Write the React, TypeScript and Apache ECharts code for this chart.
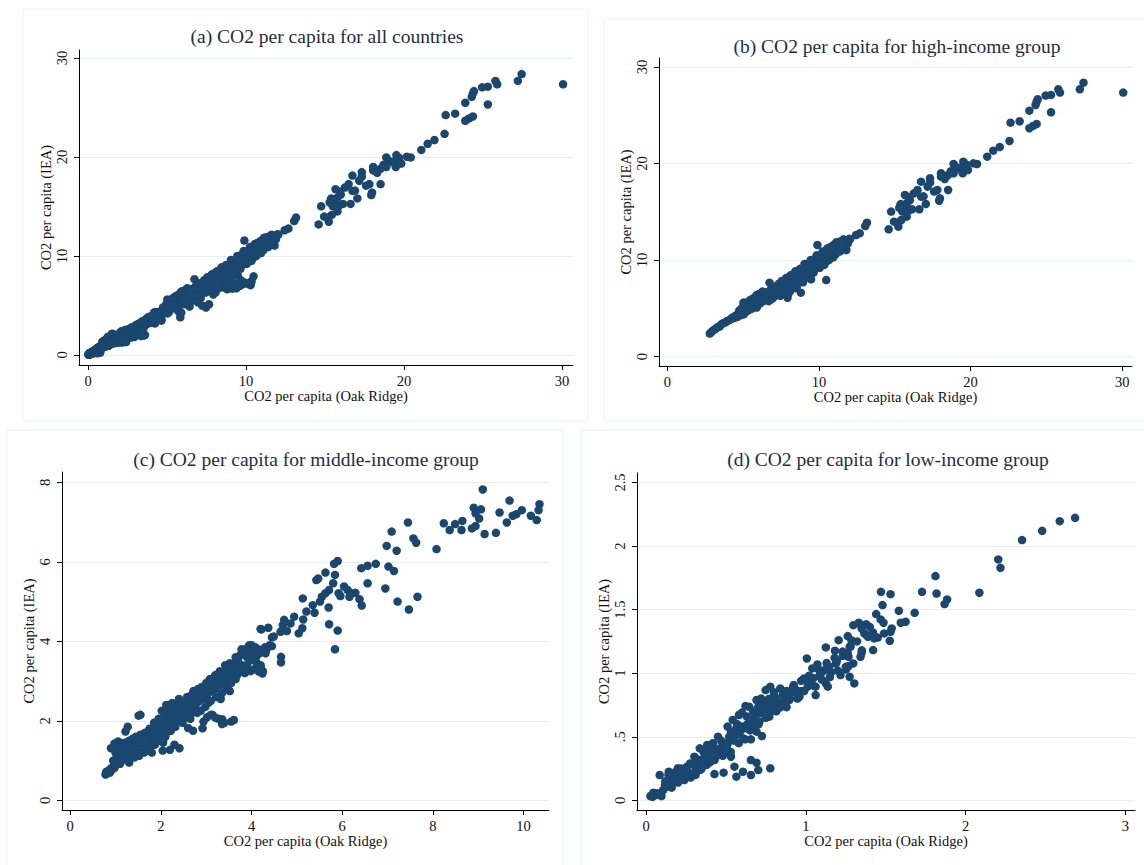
import React, { useEffect, useRef } from 'react';
import * as echarts from 'echarts';

// ---------- data (x = Oak Ridge, y = IEA), tonnes CO2 per capita ----------
const highIncome: number[][] = [
  [30.07, 27.34], [27.45, 28.37], [27.21, 27.68], [25.79, 27.68], [25.9, 27.34], [25.31, 27.1], [24.95, 27.03],
  [25.31, 25.3], [24.36, 26.4], [24.29, 26.06], [24.43, 26.65], [23.88, 25.47], [23.24, 24.37], [22.64, 24.23],
  [24.36, 24.09], [24.12, 23.89], [23.88, 23.65], [22.57, 22.33], [21.93, 21.71], [21.5, 21.33], [21.1, 20.71],
  [20.43, 19.95], [20.19, 20.02], [19.52, 20.19], [19.48, 19.68], [19.83, 19.33], [19.0, 19.68], [18.88, 19.95],
  [18.88, 18.99], [18.52, 18.81], [18.05, 18.99], [18.05, 18.64], [19.48, 18.99], [18.52, 17.26], [17.98, 16.4],
  [17.93, 16.15], [17.81, 17.26], [17.33, 18.47], [17.33, 18.02], [17.17, 17.6], [17.05, 15.81], [16.74, 18.12],
  [16.74, 16.57], [16.5, 17.26], [16.26, 16.91], [15.95, 16.5], [15.67, 16.74], [15.79, 15.88], [16.14, 15.26],
  [16.62, 15.26], [15.55, 15.36], [15.38, 15.71], [15.5, 15.02], [15.79, 14.5], [15.43, 14.15], [15.19, 13.88],
  [14.76, 15.02], [14.95, 13.98], [14.6, 13.19], [15.24, 13.46], [19.2, 19.5], [18.7, 19.2], [19.7, 19.9],
  [18.3, 18.4], [15.6, 15.5], [15.4, 15.8], [15.9, 15.1], [16.0, 16.2], [15.3, 15.4], [17.6, 17.1], [16.9, 16.6],
  [13.17, 13.88], [13.05, 13.53], [12.69, 12.77], [12.45, 12.6], [12.05, 12.15], [11.86, 11.74], [11.62, 12.15],
  [11.33, 11.91], [11.02, 11.56], [11.81, 11.05], [10.86, 11.32], [10.74, 10.7], [9.9, 11.56],
  [10.48, 7.94], [9.48, 8.01], [8.81, 6.63], [8.52, 7.08], [7.93, 6.11], [8.0, 6.56], [6.74, 7.66],
  [2.8, 2.4], [2.9, 2.55], [3.0, 2.7], [3.1, 2.8], [3.2, 2.92], [3.3, 3.05], [3.45, 3.12], [3.52, 3.3],
  [3.6, 3.37], [3.7, 3.5], [3.85, 3.56], [3.95, 3.71], [4.05, 3.76], [4.2, 3.9], [4.3, 4.07], [4.4, 4.01],
  [4.5, 4.25], [4.6, 4.33], [4.7, 4.5], [4.8, 4.44], [4.9, 4.72], [5.0, 4.61], [5.02, 5.6], [5.1, 4.9],
  [5.15, 5.52], [5.2, 5.1], [5.3, 5.3], [5.35, 5.72], [5.42, 5.0], [5.5, 5.9], [5.52, 5.41], [5.6, 5.62],
  [5.65, 6.02], [5.7, 5.2], [5.8, 6.2], [5.85, 5.7], [5.9, 6.4], [6.0, 5.9], [6.03, 6.3], [6.1, 5.5],
  [6.15, 6.1], [6.2, 6.52], [6.3, 6.0], [6.35, 6.4], [6.4, 5.8], [6.5, 6.2], [6.52, 6.55], [6.6, 6.02],
  [6.7, 6.4], [6.75, 6.8], [6.8, 5.9], [6.9, 6.5], [7.0, 6.2], [7.02, 7.0], [7.1, 6.7], [7.2, 7.2],
  [7.25, 6.4], [7.3, 6.9], [7.4, 7.4], [7.5, 6.6], [7.52, 7.1], [7.6, 7.7], [7.7, 6.9], [7.75, 7.4],
  [7.8, 8.0], [7.9, 7.2], [8.02, 7.6], [8.05, 8.3], [8.1, 6.8], [8.2, 7.9], [8.3, 8.4], [8.35, 7.4],
  [8.4, 8.1], [8.5, 8.7], [8.6, 7.7], [8.62, 8.3], [8.7, 8.9], [8.8, 8.5], [8.85, 7.9], [8.9, 9.1],
  [9.0, 8.7], [9.1, 9.3], [9.12, 8.2], [9.2, 9.0], [9.3, 9.5], [9.35, 8.6], [9.4, 9.2], [9.5, 9.8],
  [9.55, 8.9], [9.6, 9.4], [9.7, 10.1], [9.75, 9.1], [9.8, 9.7], [9.9, 10.3], [9.95, 9.4], [10.0, 10.0],
  [10.1, 10.5], [10.15, 9.6], [10.2, 10.2], [10.3, 10.8], [10.4, 10.4], [10.45, 9.8], [10.5, 11.0],
  [10.6, 10.6], [10.7, 11.3], [10.75, 10.2], [10.8, 10.9], [10.9, 11.5], [11.0, 11.1], [11.1, 10.6],
  [11.2, 11.6], [11.3, 11.3], [11.45, 11.9], [11.5, 11.2], [11.7, 12.0], [11.9, 11.7], [12.0, 12.2],
  [4.6, 4.1], [4.75, 4.8], [4.85, 4.3], [4.95, 5.1], [5.05, 4.4], [5.25, 5.55], [5.3, 4.75], [5.45, 5.25],
  [5.55, 4.95], [5.62, 5.95], [5.75, 5.45], [5.9, 5.1], [6.05, 6.5], [6.22, 5.65], [6.28, 6.75], [6.45, 6.0],
  [6.62, 6.7], [6.68, 5.75], [6.85, 7.0], [6.95, 6.05], [7.08, 7.25], [7.15, 6.35], [7.35, 7.55], [7.45, 6.3],
  [7.55, 7.85], [7.65, 6.5], [7.85, 8.15], [7.95, 6.9], [8.15, 8.45], [8.25, 7.1], [8.45, 8.85], [8.55, 7.35],
  [8.75, 9.1], [8.95, 7.7], [9.05, 9.6], [9.25, 8.3], [9.45, 10.0], [9.65, 8.7], [9.85, 10.5], [10.05, 9.2],
  [10.25, 10.9], [10.35, 9.5], [10.55, 11.2], [10.65, 10.0], [10.95, 10.3], [11.15, 11.85], [11.4, 10.9],
  [11.6, 11.5],
];

const middleIncome: number[][] = [
  [9.1, 7.82], [9.69, 7.54], [10.35, 7.45], [10.33, 7.3], [8.9, 7.36], [9.06, 7.32], [8.94, 7.22], [9.02, 7.09],
  [9.47, 7.24], [9.76, 7.16], [9.84, 7.2], [9.96, 7.3], [10.16, 7.16], [10.29, 7.05], [9.63, 6.99], [9.39, 6.73],
  [9.14, 6.7], [8.94, 6.9], [8.86, 6.84], [8.65, 7.03], [8.63, 6.8], [8.49, 6.95], [8.37, 6.8], [8.24, 6.97],
  [8.08, 6.32], [7.45, 6.99], [7.57, 6.59], [7.63, 6.48], [7.09, 6.76], [6.98, 6.4], [7.2, 6.28], [7.02, 5.88],
  [7.14, 5.77], [6.95, 5.33], [7.22, 5.0], [7.47, 4.8], [7.66, 5.12], [6.74, 5.95], [6.56, 5.9], [6.42, 5.84],
  [6.56, 5.46], [6.38, 5.06], [6.43, 4.9], [5.9, 6.02], [5.82, 5.95], [5.84, 5.67], [5.63, 5.73], [5.8, 5.46],
  [5.47, 5.58], [5.43, 5.54], [5.71, 5.29], [5.63, 5.21], [6.04, 5.38], [6.12, 5.29], [6.2, 5.21], [6.29, 5.22],
  [5.92, 5.21], [6.16, 5.12], [5.96, 5.14], [5.55, 5.12], [5.13, 5.08], [5.51, 5.0], [5.35, 4.91], [5.39, 4.72],
  [5.21, 4.75], [5.7, 4.85], [5.71, 4.43], [5.9, 4.27], [5.84, 3.8], [5.14, 4.55], [4.94, 4.62], [5.12, 4.33],
  [5.04, 4.2], [4.86, 4.45], [4.72, 4.54], [4.69, 4.41], [4.78, 4.26], [4.64, 4.24], [4.49, 4.12], [4.37, 4.34],
  [4.2, 4.31], [4.65, 3.61], [4.65, 3.47], [4.45, 3.88], [4.33, 3.8], [4.31, 3.7], [4.2, 3.35], [4.16, 3.24],
  [4.24, 3.19],
  [3.55, 1.98], [3.61, 2.02], [3.35, 2.04], [3.35, 1.92], [3.27, 2.05], [3.14, 2.15], [3.02, 2.09], [2.92, 1.81],
  [2.71, 1.75], [2.94, 1.98], [2.41, 1.31], [2.2, 1.27], [2.04, 1.25], [1.55, 2.15], [1.51, 2.13], [1.27, 1.85],
  [1.22, 1.73], [0.9, 1.31], [0.98, 1.43], [1.06, 1.48],
  [0.78, 0.65], [0.8, 0.72], [0.82, 0.68], [0.85, 0.75], [0.88, 0.7], [0.9, 0.8], [0.92, 0.77], [0.95, 0.85],
  [0.98, 0.82], [1.0, 0.9], [1.02, 1.05], [1.05, 0.95], [1.08, 1.0], [1.1, 1.12], [1.12, 0.98], [1.15, 1.1],
  [1.18, 1.2], [1.2, 1.05], [1.22, 1.3], [1.25, 1.15], [1.28, 1.25], [1.3, 1.1], [1.32, 1.4], [1.35, 1.2],
  [1.38, 1.32], [1.4, 1.15], [1.42, 1.45], [1.45, 1.3], [1.48, 1.4], [1.5, 1.22], [1.52, 1.5], [1.55, 1.35],
  [1.58, 1.6], [1.6, 1.42], [1.62, 1.3], [1.65, 1.55], [1.68, 1.45], [1.7, 1.62], [1.72, 1.38], [1.75, 1.52],
  [1.78, 1.7], [1.8, 1.48], [1.82, 1.6], [1.85, 1.75], [1.88, 1.55], [1.9, 1.85], [1.92, 1.65], [1.95, 1.95],
  [1.98, 1.72], [2.0, 1.6], [2.02, 2.05], [2.05, 1.8], [2.08, 1.95], [2.1, 2.2], [2.12, 1.7], [2.15, 2.35],
  [2.18, 1.9], [2.2, 2.1], [2.22, 2.4], [2.25, 2.0], [2.3, 2.25], [2.32, 1.85], [2.35, 2.15], [2.4, 2.4],
  [2.42, 2.05], [2.45, 2.3], [2.5, 2.2], [2.55, 2.45], [2.6, 2.3], [2.62, 2.55], [2.65, 2.15], [2.7, 2.5],
  [2.75, 2.35], [2.78, 2.65], [2.8, 2.45], [2.85, 2.7], [2.9, 2.55], [2.95, 2.8], [3.0, 2.6], [3.02, 2.9],
  [3.05, 2.45], [3.1, 2.75], [3.15, 3.0], [3.2, 2.8], [3.25, 3.1], [3.3, 2.9], [3.32, 2.55], [3.35, 3.2],
  [3.4, 3.0], [3.45, 3.3], [3.5, 3.1], [3.52, 2.75], [3.55, 3.35], [3.6, 3.2], [3.62, 3.45], [3.65, 3.05],
  [3.7, 3.55], [3.72, 3.3], [3.75, 3.65], [3.8, 3.4], [3.82, 3.75], [3.85, 3.2], [3.9, 3.6], [3.92, 3.85],
  [3.95, 3.5], [4.0, 3.9], [4.02, 3.7], [4.05, 3.3], [4.1, 3.6], [4.15, 3.8], [4.2, 3.4], [4.25, 3.25],
  [4.3, 3.85], [4.4, 3.9], [4.45, 4.1], [4.22, 4.3],
  [0.95, 1.0], [1.0, 1.2], [1.05, 1.3], [1.1, 0.92], [1.12, 1.38], [1.15, 1.25], [1.2, 1.45], [1.25, 1.02],
  [1.3, 1.5], [1.33, 1.28], [1.38, 1.55], [1.4, 1.35], [1.42, 1.08], [1.45, 1.6], [1.5, 1.45], [1.52, 1.12],
  [1.55, 1.65], [1.6, 1.55], [1.63, 1.2], [1.65, 1.7], [1.68, 1.25], [1.7, 1.5], [1.75, 1.8], [1.78, 1.35],
  [1.8, 1.65], [1.85, 1.95], [1.87, 1.4], [1.9, 1.7], [1.95, 2.05], [1.97, 1.5], [2.0, 1.85], [2.02, 2.25],
  [2.05, 1.45], [2.08, 2.1], [2.1, 1.6], [2.12, 2.4], [2.15, 1.95], [2.2, 2.3], [2.22, 1.75], [2.25, 2.45],
  [2.28, 2.15], [2.3, 1.9], [2.35, 2.35], [2.38, 2.0], [2.4, 2.55], [2.45, 2.15], [2.48, 1.95], [2.5, 2.45],
  [2.55, 2.1], [2.58, 2.6], [2.6, 2.4], [2.65, 2.05], [2.68, 2.65], [2.7, 2.3], [2.72, 2.75], [2.75, 2.55],
  [2.8, 2.2], [2.82, 2.8], [2.85, 2.5], [2.88, 2.25], [2.9, 2.85], [2.95, 2.6], [2.98, 2.35], [3.0, 2.95],
  [3.05, 2.7], [3.08, 3.05], [3.1, 2.5], [3.15, 2.85], [3.2, 3.15], [3.22, 2.6], [3.28, 2.95], [3.3, 3.25],
  [3.35, 2.7], [3.38, 3.05], [3.42, 3.4], [3.45, 2.85], [3.48, 3.15], [3.52, 3.45], [3.55, 2.95], [3.58, 3.3],
  [3.65, 3.6], [3.68, 3.15], [3.75, 3.4], [3.78, 3.8], [3.82, 3.25], [3.88, 3.7], [3.9, 3.35], [3.95, 3.9],
  [3.98, 3.25], [4.02, 3.6], [4.08, 3.85], [4.12, 3.45], [4.18, 3.7], [3.1, 2.15], [3.2, 2.08], [3.4, 1.95],
  [2.6, 1.82], [2.3, 1.4], [1.8, 1.2], [1.3, 0.95],
];

const lowIncome: number[][] = [
  [2.685, 2.222], [2.589, 2.196], [2.479, 2.12], [2.353, 2.047], [2.204, 1.895], [2.218, 1.829], [2.086, 1.633],
  [1.811, 1.764], [1.818, 1.627], [1.884, 1.58], [1.868, 1.544], [1.727, 1.64], [1.681, 1.475], [1.624, 1.405],
  [1.594, 1.397], [1.582, 1.491], [1.53, 1.622], [1.47, 1.64], [1.48, 1.536], [1.44, 1.465], [1.468, 1.423],
  [1.486, 1.397], [1.537, 1.352], [1.53, 1.326], [1.525, 1.255], [1.49, 1.313], [1.4, 1.365], [1.377, 1.386],
  [1.331, 1.397], [1.297, 1.378], [1.349, 1.352], [1.366, 1.313], [1.388, 1.287], [1.427, 1.274], [1.349, 1.161],
  [1.421, 1.182], [1.342, 1.129], [1.262, 1.292], [1.285, 1.26], [1.274, 1.208], [1.262, 1.156], [1.205, 1.26],
  [1.182, 1.177], [1.125, 1.203], [1.006, 1.116], [1.267, 1.129], [1.297, 1.077], [1.267, 1.056], [1.251, 1.03],
  [1.274, 0.972], [1.303, 0.92], [1.217, 0.985], [1.189, 1.077], [1.148, 1.051], [1.102, 1.011], [1.125, 0.92],
  [1.137, 0.894], [1.04, 1.038], [1.061, 0.894], [1.061, 0.828], [1.011, 0.894], [0.988, 0.959], [0.96, 0.815],
  [0.924, 0.907], [0.896, 0.789], [0.855, 0.828], [0.805, 0.815], [0.777, 0.894], [0.748, 0.867], [0.771, 0.784],
  [0.839, 0.731], [0.736, 0.71], [0.771, 0.658], [0.691, 0.789], [0.645, 0.736], [0.622, 0.742], [0.581, 0.671],
  [0.668, 0.618], [0.565, 0.566], [0.542, 0.632], [0.531, 0.54], [0.588, 0.54], [0.656, 0.48], [0.725, 0.506],
  [0.691, 0.54], [0.45, 0.501], [0.508, 0.435], [0.462, 0.409], [0.416, 0.448], [0.382, 0.435], [0.336, 0.409],
  [0.45, 0.356], [0.428, 0.317], [0.37, 0.343], [0.302, 0.343], [0.325, 0.291], [0.256, 0.265], [0.199, 0.252],
  [0.142, 0.225], [0.085, 0.199], [0.21, 0.186], [0.29, 0.212], [0.348, 0.252],
  [0.428, 0.207], [0.485, 0.218], [0.565, 0.186], [0.606, 0.225], [0.656, 0.199], [0.656, 0.317], [0.691, 0.296],
  [0.702, 0.238], [0.777, 0.252], [0.553, 0.265], [0.531, 0.343],
  [0.027, 0.034], [0.062, 0.042], [0.096, 0.034], [0.046, 0.06], [0.107, 0.081], [0.13, 0.107], [0.165, 0.134],
  [0.188, 0.16], [0.233, 0.173], [0.153, 0.173], [0.04, 0.028], [0.071, 0.055], [0.118, 0.12], [0.176, 0.151],
  [0.221, 0.204], [0.263, 0.218], [0.309, 0.262], [0.352, 0.318], [0.394, 0.361], [0.441, 0.392], [0.478, 0.454],
  [0.523, 0.47], [0.57, 0.517], [0.612, 0.566], [0.633, 0.6], [0.679, 0.651], [0.713, 0.687], [0.752, 0.74],
  [0.79, 0.752], [0.821, 0.779], [0.868, 0.806], [0.902, 0.842], [0.937, 0.871], [0.971, 0.86], [1.013, 0.932],
  [1.047, 0.961], [1.083, 0.978], [1.116, 1.024], [1.158, 1.006], [1.194, 1.098], [1.231, 1.137], [0.383, 0.31],
  [0.497, 0.382], [0.609, 0.487], [0.704, 0.598], [0.815, 0.7], [0.879, 0.733], [0.947, 0.801], [1.072, 1.069],
  [0.72, 0.801], [0.6, 0.69], [0.51, 0.58], [0.41, 0.39], [0.275, 0.29],
  [0.12, 0.15], [0.14, 0.2], [0.16, 0.1], [0.18, 0.22], [0.2, 0.14], [0.22, 0.25], [0.24, 0.16], [0.26, 0.22],
  [0.28, 0.18], [0.3, 0.28], [0.31, 0.2], [0.33, 0.32], [0.34, 0.24], [0.36, 0.38], [0.38, 0.28], [0.39, 0.42],
  [0.4, 0.3], [0.42, 0.45], [0.43, 0.33], [0.45, 0.4], [0.47, 0.47], [0.48, 0.35], [0.5, 0.42], [0.52, 0.5],
  [0.53, 0.38], [0.55, 0.47], [0.57, 0.6], [0.58, 0.45], [0.6, 0.58], [0.62, 0.48], [0.63, 0.66], [0.65, 0.55],
  [0.67, 0.7], [0.68, 0.58], [0.7, 0.73], [0.71, 0.62], [0.73, 0.77], [0.75, 0.65], [0.77, 0.8], [0.78, 0.7],
  [0.8, 0.85], [0.82, 0.74], [0.84, 0.88], [0.86, 0.77], [0.88, 0.86], [0.9, 0.8], [0.92, 0.89], [0.95, 0.83],
  [0.97, 0.94], [0.99, 0.86], [1.02, 0.98], [1.05, 0.9], [1.08, 1.03], [1.1, 0.95], [1.13, 1.08], [1.15, 0.97],
  [1.18, 1.12], [1.2, 1.02], [1.23, 1.17], [1.25, 1.05], [1.28, 1.21], [1.32, 1.25], [1.35, 1.18], [1.38, 1.3],
  [1.42, 1.32], [1.45, 1.28],
];

const panelTitles = [
  '(a) CO2 per capita for all countries',
  '(b) CO2 per capita for high-income group',
  '(c) CO2 per capita for middle-income group',
  '(d) CO2 per capita for low-income group',
];
const xAxisTitle = 'CO2 per capita (Oak Ridge)';
const yAxisTitle = 'CO2 per capita (IEA)';

const ticksAB = [0, 10, 20, 30];
const ticksCx = [0, 2, 4, 6, 8, 10];
const ticksCy = [0, 2, 4, 6, 8];
const ticksDx = [0, 1, 2, 3];
const ticksDy = [0, 0.5, 1, 1.5, 2, 2.5];
const ticksDyLabels = ['0', '.5', '1', '1.5', '2', '2.5'];

// ---------- styling / layout ----------
const FONT = "'Liberation Serif', 'Times New Roman', Times, serif";
const DOT = '#1a476f';
const GRIDLINE = '#e6eef1';
const FRAME = '#edf2f4';

const grids = [
  { left: 79, top: 50, width: 494, height: 315 },
  { left: 659, top: 58, width: 473, height: 308 },
  { left: 62, top: 472, width: 487, height: 338 },
  { left: 637, top: 473, width: 498, height: 337 },
];

const ranges = [
  { xmin: -0.57, xmax: 30.7, ymin: -1.01, ymax: 30.8 },
  { xmin: -0.55, xmax: 30.65, ymin: -0.96, ymax: 30.92 },
  { xmin: -0.18, xmax: 10.56, ymin: -0.244, ymax: 8.26 },
  { xmin: -0.057, xmax: 3.06, ymin: -0.076, ymax: 2.575 },
];

const titlePos = [
  { x: 327, y: 36 },
  { x: 897, y: 46 },
  { x: 306, y: 459 },
  { x: 888, y: 459 },
];

function labelFmt(ticks: number[], labels?: string[]) {
  return (v: number) => {
    const i = ticks.findIndex((t) => Math.abs(t - v) < 1e-9);
    if (labels && i >= 0) return labels[i];
    return String(v);
  };
}

function xAxis(i: number, ticks: number[]) {
  const r = ranges[i];
  return {
    type: 'value',
    gridIndex: i,
    min: r.xmin,
    max: r.xmax,
    axisLine: { show: true, onZero: false, lineStyle: { color: '#000', width: 1 } },
    axisTick: { show: true, length: 5, customValues: ticks, lineStyle: { color: '#000', width: 1 } },
    axisLabel: {
      customValues: ticks,
      formatter: labelFmt(ticks),
      margin: 8,
      color: '#111',
      fontSize: 14.5,
      fontFamily: FONT,
    },
    splitLine: { show: false },
    name: xAxisTitle,
    nameLocation: 'middle',
    nameGap: 23,
    nameTextStyle: { color: '#111', fontSize: 14.5, fontFamily: FONT },
  };
}

function yAxis(i: number, ticks: number[], labels?: string[]) {
  const r = ranges[i];
  return {
    type: 'value',
    gridIndex: i,
    min: r.ymin,
    max: r.ymax,
    axisLine: { show: true, onZero: false, lineStyle: { color: '#000', width: 1 } },
    axisTick: { show: true, length: 5, customValues: ticks, lineStyle: { color: '#000', width: 1 } },
    axisLabel: {
      customValues: ticks,
      formatter: labelFmt(ticks, labels),
      rotate: 90,
      margin: 10,
      color: '#111',
      fontSize: 14.5,
      fontFamily: FONT,
    },
    splitLine: { show: true, lineStyle: { color: GRIDLINE, width: 1 } },
    name: yAxisTitle,
    nameLocation: 'middle',
    nameGap: 25,
    nameTextStyle: { color: '#111', fontSize: 14.5, fontFamily: FONT },
  };
}

export default function App() {
  const ref = useRef<HTMLDivElement>(null);

  useEffect(() => {
    if (!ref.current) return;
    const chart = echarts.init(ref.current, undefined, { renderer: 'svg' });
    const allCountries = [...highIncome, ...middleIncome, ...lowIncome];
    const panels = [allCountries, highIncome, middleIncome, lowIncome];

    const option: any = {
      animation: false,
      backgroundColor: '#ffffff',
      grid: grids.map((g) => ({ ...g, containLabel: false })),
      xAxis: [xAxis(0, ticksAB), xAxis(1, ticksAB), xAxis(2, ticksCx), xAxis(3, ticksDx)],
      yAxis: [yAxis(0, ticksAB), yAxis(1, ticksAB), yAxis(2, ticksCy), yAxis(3, ticksDy, ticksDyLabels)],
      series: panels.map((d, i) => ({
        type: 'scatter',
        xAxisIndex: i,
        yAxisIndex: i,
        data: d,
        symbol: 'circle',
        symbolSize: 8.5,
        itemStyle: { color: DOT, opacity: 1 },
        emphasis: { disabled: true },
        silent: true,
      })),
      graphic: [
        { type: 'rect', shape: { x: 23, y: 9, width: 565, height: 412 }, style: { fill: 'none', stroke: FRAME, lineWidth: 1 }, z: -1 },
        { type: 'rect', shape: { x: 604, y: 19, width: 560, height: 402 }, style: { fill: 'none', stroke: FRAME, lineWidth: 1 }, z: -1 },
        { type: 'rect', shape: { x: 7, y: 430, width: 556, height: 450 }, style: { fill: 'none', stroke: FRAME, lineWidth: 1 }, z: -1 },
        { type: 'rect', shape: { x: 581, y: 430, width: 580, height: 450 }, style: { fill: 'none', stroke: FRAME, lineWidth: 1 }, z: -1 },
        ...panelTitles.map((t, i) => ({
          type: 'text',
          x: titlePos[i].x,
          y: titlePos[i].y,
          style: {
            text: t,
            textAlign: 'center',
            textVerticalAlign: 'middle',
            fill: '#1e2d45',
            fontSize: 19.5,
            fontFamily: FONT,
          },
        })),
      ],
    };
    chart.setOption(option);
    return () => chart.dispose();
  }, []);

  return (
    <div
      ref={ref}
      style={{ position: 'absolute', left: 0, top: 0, width: 1144, height: 865, background: '#fff' }}
    />
  );
}
